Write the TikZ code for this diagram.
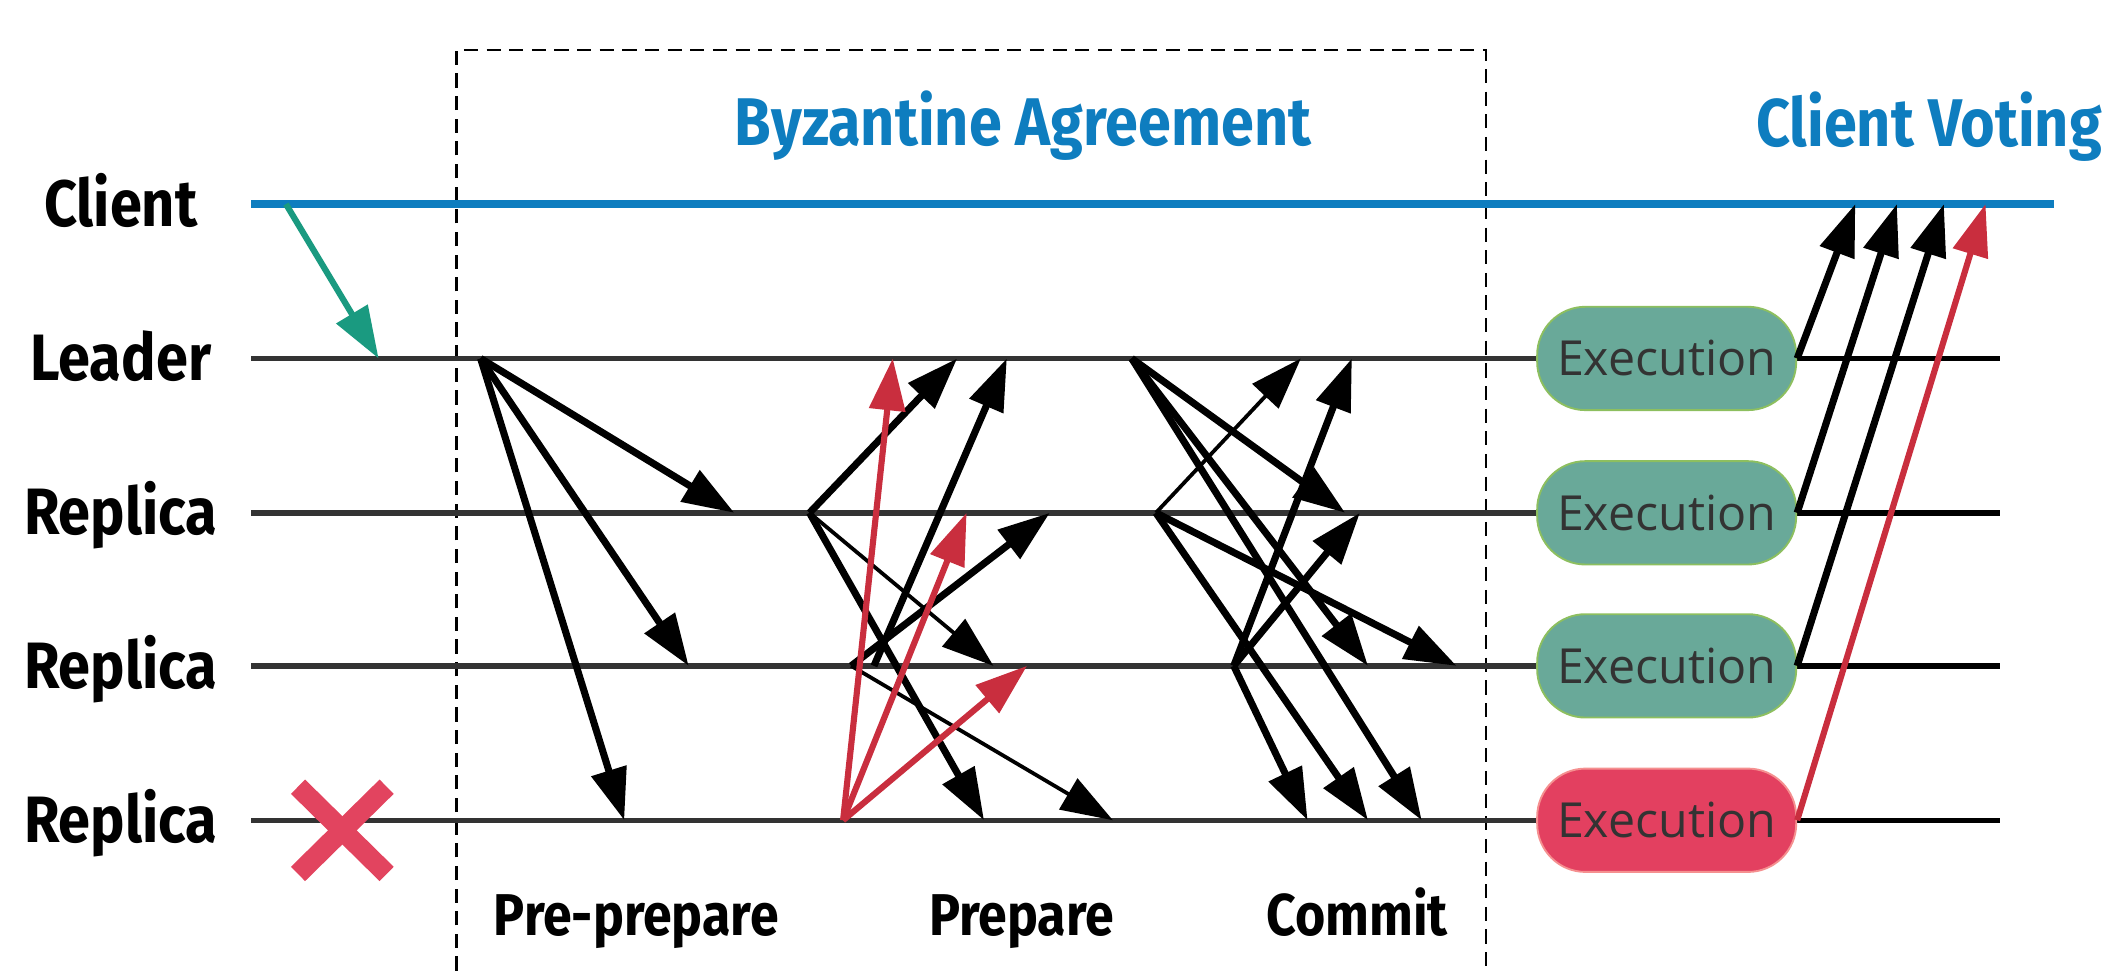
\documentclass[tikz,border=0pt]{standalone}
\usepackage{fontspec}
\setmainfont{Fira Sans}
\newfontfamily\lblfont[FakeStretch=0.88]{Fira Sans}
\newfontfamily\execfont{Open Sans}
\usetikzlibrary{arrows.meta}

\definecolor{clientblue}{HTML}{0E7DBF}
\definecolor{lanegray}{HTML}{333333}
\definecolor{exgreen}{HTML}{69A999}
\definecolor{exborder}{HTML}{8DBF5F}
\definecolor{exred}{HTML}{E34060}
\definecolor{exredborder}{HTML}{F59090}
\definecolor{extext}{HTML}{333333}
\definecolor{msgred}{HTML}{C92E3E}
\definecolor{reqgreen}{HTML}{1A9A80}
\definecolor{crossred}{HTML}{E2445F}

\tikzset{
  lanelabel/.style={font=\lblfont\bfseries\fontsize{27.8}{30}\selectfont, anchor=base, inner sep=0pt},
  phaselabel/.style={font=\lblfont\bfseries\fontsize{25}{28}\selectfont, anchor=base, inner sep=0pt},
  titlelabel/.style={font=\lblfont\bfseries\fontsize{28.6}{32}\selectfont, text=clientblue, inner sep=0pt},
  clientline/.style={draw=clientblue, line width=3.2pt},
  laneline/.style={draw=lanegray, line width=2.3pt},
  tailline/.style={draw=black, line width=2.3pt},
  execbox/.style={rounded corners=0.72cm, minimum width=3.86cm, minimum height=1.54cm,
    draw=exborder, fill=exgreen, line width=0.8pt, text=extext, inner sep=0pt,
    font=\execfont\fontsize{20.5}{24}\selectfont},
  faultybox/.style={execbox, draw=exredborder, fill=exred},
  msg/.style={-{Triangle[length=22pt,width=15pt]}, draw=black, line width=3pt},
  thinmsg/.style={msg, line width=1.6pt},
  redmsg/.style={msg, draw=msgred, fill=msgred, line width=2.6pt},
  reqmsg/.style={msg, draw=reqgreen, fill=reqgreen, line width=2.6pt},
  phasebox/.style={draw=black, line width=0.9pt, dash pattern=on 6pt off 3.6pt},
  crossarm/.style={draw=crossred, line width=0.3cm}
}

\begin{document}
\begin{tikzpicture}[x=0.02cm, y=-0.02cm]
\useasboundingbox (0,0) rectangle (1568,723);

% phase frame (open at the bottom)
\draw[phasebox] (340,723) -- (340,37) -- (1107,37) -- (1107,723);

% titles
\node[titlelabel, anchor=base] (tBA) at (762,108.5) {Byzantine Agreement};
\node[titlelabel, anchor=base east] (tCV) at (1566,109) {Client Voting};

% participant labels
\node[lanelabel] (lblC)  at (90,168.5) {Client};
\node[lanelabel] (lblL)  at (90,283.5) {Leader};
\node[lanelabel] (lblR1) at (90,398.5) {Replica};
\node[lanelabel] (lblR2) at (90,512.5) {Replica};
\node[lanelabel] (lblR3) at (90,627.5) {Replica};

% timeline end points
\coordinate (cS) at (187,152);  \coordinate (cE) at (1530,152);
\coordinate (lS) at (187,267);  \coordinate (lE) at (1490,267);
\coordinate (aS) at (187,382);  \coordinate (aE) at (1490,382);
\coordinate (bS) at (187,496);  \coordinate (bE) at (1490,496);
\coordinate (dS) at (187,611);  \coordinate (dE) at (1490,611);
\coordinate (lX) at (1241.5,267);
\coordinate (aX) at (1241.5,382);
\coordinate (bX) at (1241.5,496);
\coordinate (dX) at (1241.5,611);

% timelines (gray before execution, black after)
\draw[laneline] (lS) -- (lX);
\draw[laneline] (aS) -- (aX);
\draw[laneline] (bS) -- (bX);
\draw[laneline] (dS) -- (dX);
\draw[tailline] (lX) -- (lE);
\draw[tailline] (aX) -- (aE);
\draw[tailline] (bX) -- (bE);
\draw[tailline] (dX) -- (dE);
\draw[clientline] (cS) -- (cE);

% execution boxes
\node[execbox]   (E0) at (lX) {Execution};
\node[execbox]   (E1) at (aX) {Execution};
\node[execbox]   (E2) at (bX) {Execution};
\node[faultybox] (E3) at (dX) {Execution};

% crashed replica
\draw[crossarm] (222,586) -- (288,651);
\draw[crossarm] (288,586) -- (222,651);

% client request
\coordinate (req0) at (213,152);
\coordinate (req1) at (282,267);
\draw[reqmsg] (req0) -- (req1);

% pre-prepare
\coordinate (pp0) at (358,267);
\coordinate (pp1) at (547,382);
\coordinate (pp2) at (513,496);
\coordinate (pp3) at (465,611);
\draw[msg] (pp0) -- (pp1);
\draw[msg] (pp0) -- (pp2);
\draw[msg] (pp0) -- (pp3);

% prepare
\coordinate (pa1)   at (603,382);
\coordinate (pa1L)  at (713,267);
\coordinate (pa1R2) at (740,496);
\coordinate (pa1R3) at (733,611);
\coordinate (pa2a)  at (651,496);
\coordinate (pa2L)  at (750,267);
\coordinate (pa2b)  at (634,496);
\coordinate (pa2R1) at (782,382);
\coordinate (pa2R3) at (829,611);
\coordinate (pa3)   at (628,611);
\coordinate (pa3L)  at (665,267);
\coordinate (pa3R1) at (720,382);
\coordinate (pa3R2) at (765,496);
\draw[msg]     (pa1) -- (pa1L);
\draw[thinmsg] (pa1) -- (pa1R2);
\draw[msg]     (pa1) -- (pa1R3);
\draw[msg]     (pa2a) -- (pa2L);
\draw[msg]     (pa2b) -- (pa2R1);
\draw[thinmsg] (pa2b) -- (pa2R3);
\draw[redmsg]  (pa3) -- (pa3L);
\draw[redmsg]  (pa3) -- (pa3R1);
\draw[redmsg]  (pa3) -- (pa3R2);

% commit
\coordinate (cm0)   at (843,267);
\coordinate (cm0R1) at (1002,382);
\coordinate (cm0R2) at (1019,496);
\coordinate (cm0R3) at (1059,611);
\coordinate (cm1)   at (861,382);
\coordinate (cm1L)  at (969,267);
\coordinate (cm1R2) at (1085,496);
\coordinate (cm1R3) at (1019,611);
\coordinate (cm2)   at (919,496);
\coordinate (cm2L)  at (1007,267);
\coordinate (cm2R1) at (1013,382);
\coordinate (cm2R3) at (974,611);
\draw[msg]     (cm0) -- (cm0R1);
\draw[msg]     (cm0) -- (cm0R2);
\draw[msg]     (cm0) -- (cm0R3);
\draw[thinmsg] (cm1) -- (cm1L);
\draw[msg]     (cm1) -- (cm1R2);
\draw[msg]     (cm1) -- (cm1R3);
\draw[msg]     (cm2) -- (cm2L);
\draw[msg]     (cm2) -- (cm2R1);
\draw[msg]     (cm2) -- (cm2R3);

% replies to the client
\coordinate (v0) at (1382,152);
\coordinate (v1) at (1413,152);
\coordinate (v2) at (1448,152);
\coordinate (v3) at (1479,152);
\draw[msg]    (E0.east) -- (v0);
\draw[msg]    (E1.east) -- (v1);
\draw[msg]    (E2.east) -- (v2);
\draw[redmsg] (E3.east) -- (v3);

% phase names
\node[phaselabel] (phPP) at (474,697) {Pre-prepare};
\node[phaselabel] (phP)  at (761,697) {Prepare};
\node[phaselabel] (phC)  at (1011,697) {Commit};
\end{tikzpicture}
\end{document}
